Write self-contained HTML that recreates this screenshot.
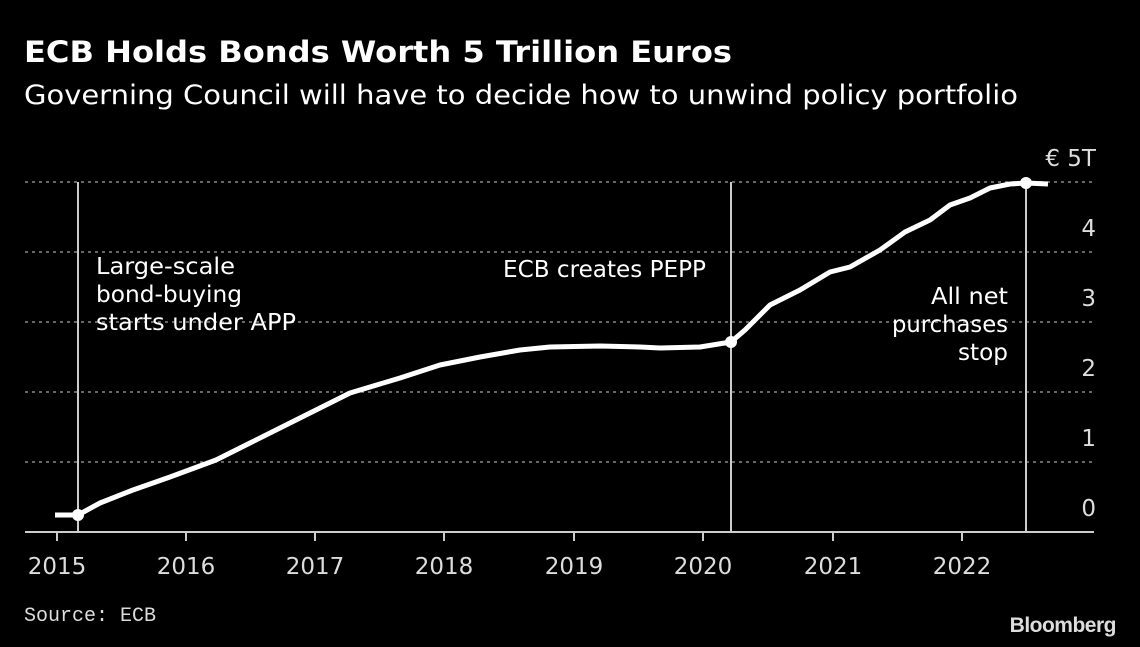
<!DOCTYPE html>
<html><head><meta charset="utf-8"><style>
body{margin:0;background:#000;}
svg{display:block;font-family:"DejaVu Sans","Liberation Sans",sans-serif;}
</style></head><body>
<svg width="1140" height="647" viewBox="0 0 1140 647" xmlns="http://www.w3.org/2000/svg">
<rect width="1140" height="647" fill="#000"/>
<text x="24" y="62" fill="#fff" font-size="29" font-weight="bold" textLength="708" lengthAdjust="spacingAndGlyphs">ECB Holds Bonds Worth 5 Trillion Euros</text>
<text x="24" y="104" fill="#fff" font-size="27" textLength="994" lengthAdjust="spacingAndGlyphs">Governing Council will have to decide how to unwind policy portfolio</text>
<g stroke="#888" stroke-width="1.5" stroke-dasharray="3,4">
<line x1="25" x2="1094" y1="182" y2="182"/><line x1="25" x2="1094" y1="252" y2="252"/>
<line x1="25" x2="1094" y1="322" y2="322"/><line x1="25" x2="1094" y1="392" y2="392"/>
<line x1="25" x2="1094" y1="462" y2="462"/>
</g>
<line x1="25" x2="1094" y1="532" y2="532" stroke="#ccc" stroke-width="2"/>
<g stroke="#ccc" stroke-width="2">
<line x1="57" x2="57" y1="532" y2="541"/><line x1="186" x2="186" y1="532" y2="541"/>
<line x1="315" x2="315" y1="532" y2="541"/><line x1="444" x2="444" y1="532" y2="541"/>
<line x1="574" x2="574" y1="532" y2="541"/><line x1="703" x2="703" y1="532" y2="541"/>
<line x1="833" x2="833" y1="532" y2="541"/><line x1="962" x2="962" y1="532" y2="541"/>
</g>
<rect x="77" y="182" width="2" height="350" fill="#ccc"/>
<rect x="730" y="182" width="2" height="350" fill="#ccc"/>
<rect x="1025" y="182" width="2" height="350" fill="#ccc"/>
<g fill="#ddd" font-size="23" text-anchor="middle">
<text x="57" y="574">2015</text><text x="186" y="574">2016</text><text x="315" y="574">2017</text><text x="444" y="574">2018</text>
<text x="574" y="574">2019</text><text x="703" y="574">2020</text><text x="833" y="574">2021</text><text x="962" y="574">2022</text>
</g>
<g fill="#ddd" font-size="23" text-anchor="end">
<text x="1096" y="166">€ 5T</text><text x="1096" y="236">4</text><text x="1096" y="306">3</text>
<text x="1096" y="376">2</text><text x="1096" y="446">1</text><text x="1096" y="516">0</text>
</g>
<g fill="#fff" font-size="23">
<text x="96" y="274" textLength="139" lengthAdjust="spacingAndGlyphs">Large-scale</text>
<text x="96" y="302" textLength="146" lengthAdjust="spacingAndGlyphs">bond-buying</text>
<text x="96" y="330" textLength="200" lengthAdjust="spacingAndGlyphs">starts under APP</text>
<text x="503" y="277" textLength="203" lengthAdjust="spacingAndGlyphs">ECB creates PEPP</text>
<text x="1008" y="304" text-anchor="end" textLength="77" lengthAdjust="spacingAndGlyphs">All net</text>
<text x="1008" y="332" text-anchor="end" textLength="116" lengthAdjust="spacingAndGlyphs">purchases</text>
<text x="1008" y="360" text-anchor="end" textLength="50" lengthAdjust="spacingAndGlyphs">stop</text>
</g>
<polyline fill="none" stroke="#fff" stroke-width="5" stroke-linejoin="round" points="55,515 78,515 100,503 133,490 170,477 216,460 250,443 300,418 350,393 400,378 440,365 480,357 520,350 550,347 600,346 640,347 660,348 700,347 731,342 745,330 770,305 800,290 830,272 850,267 880,250 905,232 930,220 950,205 970,198 990,188 1010,184 1026,183 1048,184"/>
<circle cx="78" cy="515" r="6" fill="#fff"/><circle cx="731" cy="342" r="6" fill="#fff"/><circle cx="1026" cy="183" r="6" fill="#fff"/>
<text x="24" y="621" fill="#ddd" font-size="20" font-family="Liberation Mono, monospace">Source: ECB</text>
<text x="1116" y="632" fill="#ddd" font-size="21" font-weight="bold" text-anchor="end" font-family="Liberation Sans, sans-serif" letter-spacing="-0.5">Bloomberg</text>
</svg>
</body></html>
